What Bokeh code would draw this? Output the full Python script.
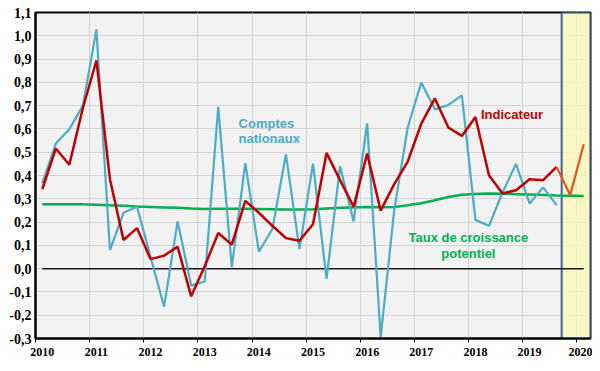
from bokeh.plotting import figure
from bokeh.models import FixedTicker, CustomJSTickFormatter, BoxAnnotation
from bokeh.core.properties import value
from bokeh.embed import file_html
from bokeh.resources import INLINE

# ---------------- data ----------------
years = ["2010", "2011", "2012", "2013", "2014", "2015", "2016", "2017", "2018", "2019", "2020"]
quarters = [f"{y}T{q}" for y in years for q in (1, 2, 3, 4)][:41]  # 2010T1 .. 2020T1

# Indicateur (2010T1 .. 2019T3)
indicateur = [0.341, 0.516, 0.446, 0.69, 0.894, 0.384, 0.123, 0.174,
              0.041, 0.056, 0.094, -0.119, 0.01, 0.153, 0.103, 0.291,
              0.24, 0.184, 0.131, 0.12, 0.191, 0.497, 0.38, 0.266,
              0.494, 0.249, 0.363, 0.46, 0.623, 0.731, 0.606, 0.57,
              0.651, 0.401, 0.323, 0.337, 0.384, 0.38, 0.437]
# Indicateur, prévision (2019T3 .. 2020T1)
indicateur_prev = [0.437, 0.316, 0.534]
# Comptes nationaux (2010T1 .. 2019T3)
comptes = [0.366, 0.537, 0.599, 0.70, 1.027, 0.08, 0.24, 0.266,
           0.05, -0.163, 0.203, -0.073, -0.055, 0.695, 0.006, 0.453,
           0.073, 0.17, 0.491, 0.084, 0.451, -0.044, 0.44, 0.203,
           0.624, -0.294, 0.25, 0.607, 0.799, 0.684, 0.703, 0.744,
           0.209, 0.184, 0.327, 0.449, 0.28, 0.349, 0.273]
# Taux de croissance potentiel (2010T1 .. 2020T1)
potentiel = [0.276, 0.276, 0.276, 0.276, 0.274, 0.272, 0.270, 0.267,
             0.265, 0.263, 0.261, 0.258, 0.256, 0.257, 0.257, 0.257,
             0.256, 0.255, 0.254, 0.254, 0.255, 0.258, 0.261, 0.263,
             0.265, 0.264, 0.265, 0.272, 0.281, 0.294, 0.308, 0.317,
             0.321, 0.323, 0.322, 0.320, 0.318, 0.316, 0.314, 0.313, 0.312]
zero_line = [0.0] * len(quarters)
y_ticks = [-0.3, -0.2, -0.1, 0.0, 0.1, 0.2, 0.3, 0.4, 0.5, 0.6, 0.7, 0.8, 0.9, 1.0, 1.1]

# x positions = index of the quarter
xq = list(range(len(quarters)))
x_ind = xq[:len(indicateur)]
x_prev = xq[len(indicateur) - 1:len(indicateur) - 1 + len(indicateur_prev)]
x_cpt = xq[:len(comptes)]

# ---------------- figure ----------------
p = figure(width=592, height=363, output_backend="svg", toolbar_location=None,
           x_range=(-0.5, len(quarters) - 0.5), y_range=(-0.3, 1.1),
           min_border_left=35, min_border_right=2, min_border_top=12, min_border_bottom=25)
p.background_fill_color = "#F2F2F2"
p.border_fill_color = "white"
p.outline_line_color = "black"
p.outline_line_width = 2

# grid
p.xgrid.ticker = FixedTicker(ticks=[i - 0.5 for i in range(4, len(quarters), 4)])
p.ygrid.ticker = FixedTicker(ticks=y_ticks)
p.xgrid.grid_line_color = "#D4D4D4"
p.ygrid.grid_line_color = "#D4D4D4"
p.xgrid.grid_line_width = 1
p.ygrid.grid_line_width = 1

# shaded forecast zone (behind the lines)
box = BoxAnnotation(left=38.37, right=40.5, top=1.1, bottom=-0.3,
                    fill_color="#F9F6B8", fill_alpha=0.8,
                    line_color="#3F6495", line_alpha=1.0, line_width=2, level="underlay")
p.add_layout(box)

# axes
year_pos = [i for i in range(0, len(quarters), 4)]
p.xaxis.ticker = FixedTicker(ticks=year_pos, minor_ticks=[i - 0.5 for i in range(0, len(quarters), 4)])
p.xaxis.major_label_overrides = {pos: years[k] for k, pos in enumerate(year_pos)}
p.yaxis.ticker = FixedTicker(ticks=y_ticks)
p.yaxis.formatter = CustomJSTickFormatter(code="return tick.toFixed(1).replace('.', ',');")
for ax in (p.xaxis[0], p.yaxis[0]):
    ax.axis_line_color = "black"
    ax.axis_line_width = 2
    ax.major_label_text_font = "Liberation Serif"
    ax.major_label_text_font_style = "bold"
    ax.major_label_text_color = "black"
    ax.major_tick_in = 0
    ax.minor_tick_in = 0
p.xaxis.major_label_text_font_size = "12px"
p.yaxis.major_label_text_font_size = "14px"
p.xaxis.major_tick_out = 0
p.xaxis.minor_tick_out = 4
p.xaxis.minor_tick_line_color = "black"
p.xaxis.major_label_standoff = 5
p.yaxis.major_tick_out = 0
p.yaxis.minor_tick_out = 0
p.yaxis.major_label_standoff = 4

# lines
p.line(xq, zero_line, line_color="#1A1A1A", line_width=1.5)
p.line(xq, potentiel, line_color="#00B050", line_width=2.5)
p.line(x_cpt, comptes, line_color="#4BACC6", line_width=2.2)
p.line(x_ind, indicateur, line_color="#C00000", line_width=2.5)
p.line(x_prev, indicateur_prev, line_color="#E2531F", line_width=2.2)

# labels
font = value("Liberation Sans")
p.text(x=[14.5, 14.5], y=[0.624, 0.559], text=["Comptes", "nationaux"],
       text_font=font, text_font_style="bold", text_font_size="13px",
       text_color="#4BACC6", text_align="left", text_baseline="middle")
p.text(x=[32.41], y=[0.661], text=["Indicateur"],
       text_font=font, text_font_style="bold", text_font_size="13px",
       text_color="#C00000", text_align="left", text_baseline="middle")
p.text(x=[31.48, 31.48], y=[0.132, 0.066], text=["Taux de croissance", "potentiel"],
       text_font=font, text_font_style="bold", text_font_size="13px",
       text_color="#00B050", text_align="center", text_baseline="middle")

open("out.html", "w").write(file_html(p, INLINE))
